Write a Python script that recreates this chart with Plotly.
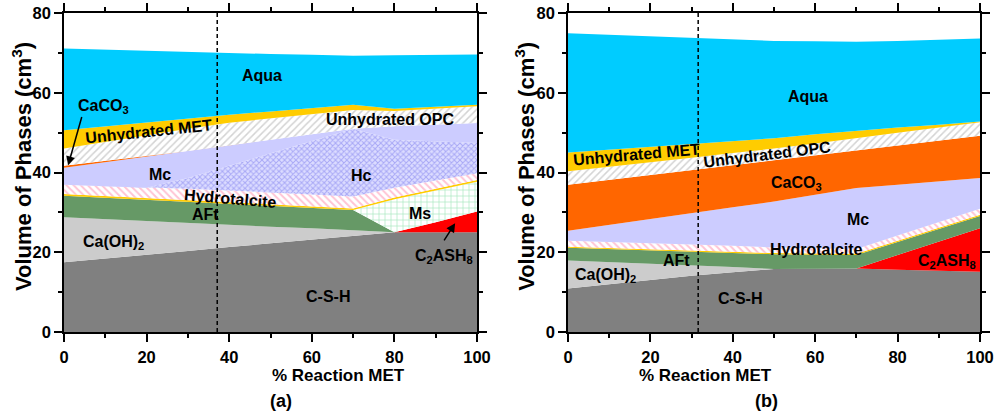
import plotly.graph_objects as go

# ---------------- data ----------------
X = [0, 10, 20, 30, 40, 50, 60, 70, 80, 90, 100]

# Panel (a): phase volumes (cm3), bottom to top
csh_a    = [17.5, 18.4, 19.4, 20.3, 21.3, 22.2, 23.1, 24.1, 25.0, 25.0, 25.0]
caoh2_a  = [11.3, 9.9, 8.5, 7.1, 5.6, 4.2, 2.9, 1.4, 0, 0, 0]
c2ash8_a = [0, 0, 0, 0, 0, 0, 0, 0, 0, 2.5, 5.2]
aft_a    = [5.4, 5.4, 5.3, 5.3, 5.2, 5.2, 5.1, 5.1, 0, 0, 0]
ms_a     = [0, 0, 0, 0, 0, 0, 0, 0, 8.3, 8.0, 7.5]
minor_a  = [0.4, 0.4, 0.4, 0.4, 0.4, 0.4, 0.4, 0.4, 0.4, 0.4, 0.4]
htc_a    = [2.3, 2.5, 2.6, 2.8, 3.0, 3.0, 3.0, 3.0, 2.5, 2.1, 1.7]
hc_a     = [0, 0, 0, 2.7, 6.2, 9.8, 13.4, 17.0, 12.0, 9.8, 7.6]
mc_a     = [4.3, 6.0, 7.8, 6.8, 5.1, 3.4, 1.7, 0, 3.4, 4.2, 5.0]
caco3_a  = [0.5, 0.3, 0.1, 0, 0, 0, 0, 0, 0, 0, 0]
opc_a    = [4.3, 4.8, 5.3, 5.6, 5.7, 5.4, 5.0, 4.7, 3.8, 4.0, 4.2]
met_a    = [4.6, 3.9, 3.2, 2.6, 2.0, 1.7, 1.6, 1.3, 0.6, 0.5, 0.4]
aqua_a   = [20.5, 19.2, 17.9, 16.6, 15.4, 14.4, 13.3, 12.3, 13.4, 13.0, 12.6]

# Panel (b)
csh_b    = [10.9, 12.0, 13.0, 14.1, 15.0, 15.8, 15.9, 15.9, 15.6, 15.4, 15.1]
caoh2_b  = [7.0, 5.5, 4.2, 2.7, 1.3, 0, 0, 0, 0, 0, 0]
c2ash8_b = [0, 0, 0, 0, 0, 0, 0, 0, 3.7, 7.2, 10.9]
aft_b    = [3.2, 3.3, 3.3, 3.3, 3.5, 3.7, 3.5, 3.4, 3.3, 3.3, 3.1]
ms_b     = [0, 0, 0, 0, 0, 0, 0, 0, 0, 0, 0]
minor_b  = [0.3, 0.3, 0.3, 0.3, 0.3, 0.3, 0.3, 0.3, 0.3, 0.3, 0.3]
htc_b    = [1.5, 1.5, 1.5, 1.5, 1.5, 1.4, 1.3, 1.2, 1.3, 1.4, 1.5]
hc_b     = [0, 0, 0, 0, 0, 0, 0, 0, 0, 0, 0]
mc_b     = [2.5, 4.3, 6.0, 7.9, 9.7, 11.5, 13.4, 15.3, 12.7, 10.2, 7.7]
caco3_b  = [11.5, 11.2, 11.1, 10.8, 10.5, 10.4, 9.9, 9.4, 9.8, 10.2, 10.6]
opc_b    = [3.4, 3.3, 3.2, 3.1, 3.1, 2.9, 3.0, 3.2, 3.3, 3.3, 3.4]
met_b    = [4.7, 4.3, 3.8, 3.4, 3.0, 2.6, 2.3, 1.8, 1.3, 0.7, 0.2]
aqua_b   = [29.9, 28.8, 27.7, 26.6, 25.4, 24.4, 23.3, 22.3, 21.7, 21.3, 20.8]

PHASES = ["C-S-H", "Ca(OH)2", "C2ASH8", "AFt", "Ms", "minor", "Hydrotalcite",
          "Hc", "Mc", "CaCO3", "Unhydrated OPC", "Unhydrated MET", "Aqua"]
DATA_A = [csh_a, caoh2_a, c2ash8_a, aft_a, ms_a, minor_a, htc_a, hc_a, mc_a,
          caco3_a, opc_a, met_a, aqua_a]
DATA_B = [csh_b, caoh2_b, c2ash8_b, aft_b, ms_b, minor_b, htc_b, hc_b, mc_b,
          caco3_b, opc_b, met_b, aqua_b]

DASH_A = 37.1   # vertical dashed marker, panel (a)
DASH_B = 31.6   # panel (b)

X_TITLE = "% Reaction MET"
Y_TITLE = "Volume of Phases (cm<sup>3</sup>)"

# ---------------- styles ----------------
STYLE = {
    "C-S-H":          dict(color="#808080"),
    "Ca(OH)2":        dict(color="#CCCCCC"),
    "C2ASH8":         dict(color="#FF0000"),
    "AFt":            dict(color="#669966"),
    "Ms":             dict(color="#FFFFFF", pat=dict(shape="+", fgcolor="#44CC77", bgcolor="#FFFFFF", size=6, solidity=0.2)),
    "minor":          dict(color="#FFCC00"),
    "Hydrotalcite":   dict(color="#FFFFFF", pat=dict(shape="\\", fgcolor="#FF88AA", bgcolor="#FFFFFF", size=5, solidity=0.4)),
    "Hc":             dict(color="#D0D0FF", pat=dict(shape="x", fgcolor="#7474EC", bgcolor="#DCDCFF", size=4, solidity=0.45)),
    "Mc":             dict(color="#CCCCFF"),
    "CaCO3":          dict(color="#FF6600"),
    "Unhydrated OPC": dict(color="#FFFFFF", pat=dict(shape="/", fgcolor="#A8A8A8", bgcolor="#FFFFFF", size=5, solidity=0.3)),
    "Unhydrated MET": dict(color="#FFCC00"),
    "Aqua":           dict(color="#00CCFF"),
}

fig = go.Figure()

for data, xa, ya, grp in [(DATA_A, "x", "y", "a"), (DATA_B, "x2", "y2", "b")]:
    for name, vals in zip(PHASES, data):
        st = STYLE[name]
        kw = dict(x=X, y=vals, name=name, xaxis=xa, yaxis=ya, stackgroup=grp,
                  mode="lines", showlegend=False, hoverinfo="name+y",
                  line=dict(width=0))
        if "pat" in st:
            kw["fillpattern"] = st["pat"]
            kw["fillcolor"] = st["pat"]["bgcolor"]
        else:
            kw["fillcolor"] = st["color"]
        fig.add_trace(go.Scatter(**kw))

FONT = "Liberation Sans, Arial, sans-serif"

axis_common = dict(
    showline=True, linecolor="black", linewidth=1.5, mirror="ticks",
    ticks="outside", ticklen=8, tickwidth=1.5, tickcolor="black",
    showgrid=False, zeroline=False, tick0=0, dtick=20, automargin=False,
    minor=dict(dtick=10, tick0=0, ticks="outside", ticklen=4, tickwidth=1.5, tickcolor="black", showgrid=False),
    tickfont=dict(family=FONT, size=16.5, color="black", weight="bold"),
)

fig.update_layout(
    width=996, height=416,
    margin=dict(l=64, r=16, t=13, b=84, autoexpand=False),
    paper_bgcolor="white", plot_bgcolor="white",
    xaxis=dict(domain=[0, 0.4509], range=[0, 100], anchor="y", ticklabelstandoff=1, **axis_common),
    yaxis=dict(domain=[0, 1], range=[0, 80], anchor="x", **axis_common),
    xaxis2=dict(domain=[0.5502, 1], range=[0, 100], anchor="y2", ticklabelstandoff=1, **axis_common),
    yaxis2=dict(domain=[0, 1], range=[0, 80], anchor="x2", **axis_common),
)

# dashed vertical markers
for xr, yr, xv in [("x", "y", DASH_A), ("x2", "y2", DASH_B)]:
    fig.add_shape(type="line", xref=xr, yref=yr, x0=xv, x1=xv, y0=0, y1=80,
                  line=dict(color="black", width=1.5, dash="4px,3px"), layer="above")

LBL = dict(family=FONT, size=16, color="black", weight="bold")

labels = [
    # (xref, yref, x, y, text, angle)
    ("x", "y", 47.9, 64.3, "Aqua", 0),
    ("x", "y", 9.5, 56.6, "CaCO<sub>3</sub>", 0),
    ("x", "y", 20.4, 50.4, "Unhydrated MET", -6),
    ("x", "y", 79.0, 53.4, "Unhydrated OPC", 0),
    ("x", "y", 23.3, 39.4, "Mc", 0),
    ("x", "y", 72.1, 39.2, "Hc", 0),
    ("x", "y", 40.2, 33.4, "Hydrotalcite", 5),
    ("x", "y", 34.2, 29.5, "AFt", 0),
    ("x", "y", 12.0, 22.4, "Ca(OH)<sub>2</sub>", 0),
    ("x", "y", 64.0, 8.8, "C-S-H", 0),
    ("x", "y", 86.3, 29.8, "Ms", 0),
    ("x", "y", 91.9, 19.0, "C<sub>2</sub>ASH<sub>8</sub>", 0),
    ("x2", "y2", 58.3, 59.1, "Aqua", 0),
    ("x2", "y2", 16.6, 44.4, "Unhydrated MET", -5),
    ("x2", "y2", 48.2, 44.6, "Unhydrated OPC", -7),
    ("x2", "y2", 55.5, 37.3, "CaCO<sub>3</sub>", 0),
    ("x2", "y2", 70.4, 28.3, "Mc", 0),
    ("x2", "y2", 60.3, 20.6, "Hydrotalcite", 0),
    ("x2", "y2", 26.3, 18.0, "AFt", 0),
    ("x2", "y2", 9.0, 14.1, "Ca(OH)<sub>2</sub>", 0),
    ("x2", "y2", 41.7, 8.4, "C-S-H", 0),
    ("x2", "y2", 91.9, 17.8, "C<sub>2</sub>ASH<sub>8</sub>", 0),
]
for xr, yr, xv, yv, txt, ang in labels:
    fig.add_annotation(xref=xr, yref=yr, x=xv, y=yv, text=txt, showarrow=False,
                       textangle=ang, font=LBL)

# arrows
arrows = [
    ("x", "y", 1.0, 41.8, 4.4, 54.3),
    ("x", "y", 94.7, 27.3, 91.8, 22.6),
]
for xr, yr, hx, hy, tx, ty in arrows:
    fig.add_annotation(xref=xr, yref=yr, x=hx, y=hy, ax=tx, ay=ty, axref=xr, ayref=yr,
                       text="", showarrow=True, arrowhead=2, arrowsize=1.2,
                       arrowwidth=1.5, arrowcolor="black")

# axis titles and panel tags (paper coordinates)
TFONT = dict(family=FONT, size=17, color="black", weight="bold")
for xp in [0.225, 0.775]:
    fig.add_annotation(xref="paper", yref="paper", x=xp, y=-0.136, text=X_TITLE,
                       showarrow=False, font=TFONT, yanchor="middle")
for xp in [-0.046, 0.503]:
    fig.add_annotation(xref="paper", yref="paper", x=xp, y=0.52, text=Y_TITLE,
                       showarrow=False, textangle=-90, xanchor="center", yanchor="middle",
                       font=dict(family=FONT, size=22, color="black", weight="bold"))
for xp, tag in [(0.2227, "(a)"), (0.7817, "(b)")]:
    fig.add_annotation(xref="paper", yref="paper", x=xp, y=-0.215, text=tag,
                       showarrow=False, yanchor="middle",
                       font=dict(family=FONT, size=18, color="black", weight="bold"))

# remove the browser's default 8px page margin so the figure sits at (0, 0)
fig.write_html("out.html", config={"displayModeBar": False},
               post_script="document.body.style.margin='0px';document.body.style.padding='0px';")
